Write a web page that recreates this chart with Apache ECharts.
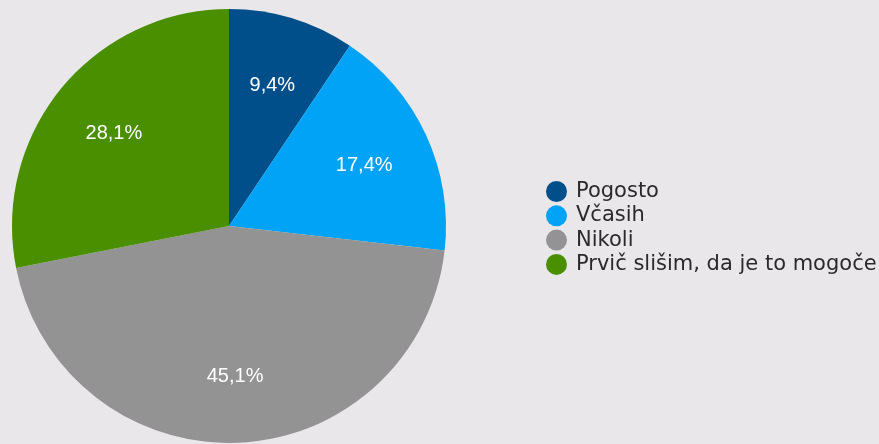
<!DOCTYPE html>
<html>
<head>
<meta charset="utf-8">
<style>
  html, body { margin: 0; padding: 0; background: #e9e7ea; }
  #chart { width: 879px; height: 444px; }
</style>
<script src="https://cdn.jsdelivr.net/npm/echarts@6/dist/echarts.min.js"></script>
</head>
<body>
<div id="chart"></div>
<script>
const categories = ['Pogosto', 'Včasih', 'Nikoli', 'Prvič slišim, da je to mogoče'];
const shares = [9.4, 17.4, 45.1, 28.1];
const colors = ['#004f8a', '#00a3f5', '#939393', '#4a8f00'];

const slices = categories.map((name, i) => ({ name: name, value: shares[i] }));
const fmt = p => p.value.toFixed(1).replace('.', ',') + '%';

const chart = echarts.init(document.getElementById('chart'));
chart.setOption({
  backgroundColor: '#e9e7ea',
  color: colors,
  animation: false,
  legend: {
    data: categories,
    orient: 'vertical',
    left: 541,
    top: 176,
    icon: 'circle',
    itemWidth: 21,
    itemHeight: 21,
    itemGap: 3.3,
    textStyle: { fontFamily: 'DejaVu Sans', fontSize: 21, color: '#2a2a2a', padding: [0, 0, 0, 4] }
  },
  series: [
    {
      type: 'pie',
      center: [229, 226],
      radius: [0, 217],
      startAngle: 90,
      clockwise: true,
      label: { show: false },
      labelLine: { show: false },
      emphasis: { disabled: true },
      data: slices
    },
    {
      // label ring: places the percentages at about two thirds of the radius
      type: 'pie',
      center: [229, 228],
      radius: [75, 217],
      startAngle: 90,
      clockwise: true,
      silent: true,
      itemStyle: { color: 'rgba(0,0,0,0)' },
      label: {
        show: true,
        position: 'inside',
        formatter: fmt,
        color: '#ffffff',
        fontFamily: 'Liberation Sans',
        fontSize: 20,
        fontWeight: 'normal'
      },
      labelLine: { show: false },
      emphasis: { disabled: true },
      data: slices
    }
  ]
});
</script>
</body>
</html>
